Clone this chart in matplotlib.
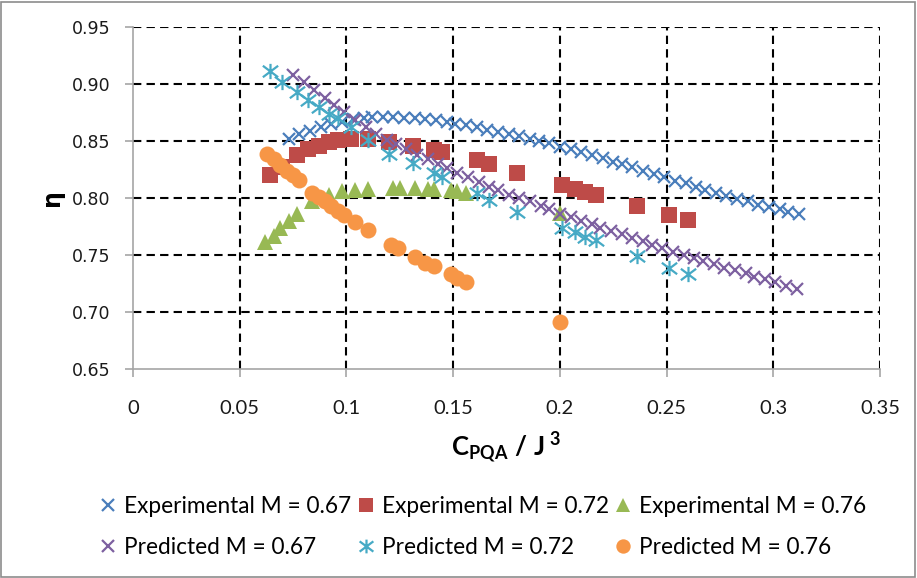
import matplotlib
matplotlib.use("Agg")
import matplotlib.pyplot as plt
from matplotlib.path import Path
from matplotlib.patches import Rectangle
from matplotlib.ticker import FuncFormatter

# Experimental, M = 0.67
exp67_x = [0.073, 0.078, 0.083, 0.088, 0.093, 0.098, 0.103, 0.108, 0.112, 0.117,
           0.122, 0.127, 0.132, 0.137, 0.142, 0.147, 0.151, 0.156, 0.161, 0.166,
           0.171, 0.176, 0.181, 0.186, 0.190, 0.195, 0.200, 0.205, 0.210, 0.215,
           0.220, 0.225, 0.229, 0.234, 0.239, 0.244, 0.249, 0.254, 0.259, 0.264,
           0.268, 0.273, 0.278, 0.283, 0.288, 0.293, 0.298, 0.303, 0.307, 0.312]
exp67_y = [0.852, 0.856, 0.859, 0.862, 0.865, 0.867, 0.869, 0.870, 0.871, 0.871,
           0.871, 0.870, 0.870, 0.869, 0.868, 0.867, 0.865, 0.864, 0.862, 0.860,
           0.858, 0.856, 0.854, 0.852, 0.850, 0.848, 0.845, 0.843, 0.840, 0.838,
           0.835, 0.832, 0.830, 0.827, 0.824, 0.821, 0.818, 0.815, 0.813, 0.810,
           0.807, 0.804, 0.802, 0.799, 0.797, 0.794, 0.792, 0.790, 0.788, 0.786]

# Experimental and predicted, M = 0.72 (same operating points)
m72_x = [0.064, 0.070, 0.077, 0.082, 0.087, 0.092, 0.096, 0.102, 0.110, 0.120,
         0.131, 0.141, 0.145, 0.161, 0.167, 0.180, 0.201, 0.207, 0.212, 0.217,
         0.236, 0.251, 0.260]
exp72_y = [0.820, 0.827, 0.838, 0.843, 0.846, 0.849, 0.851, 0.852, 0.852, 0.849,
           0.846, 0.842, 0.840, 0.833, 0.830, 0.822, 0.811, 0.808, 0.805, 0.803,
           0.793, 0.785, 0.781]
pred72_y = [0.911, 0.902, 0.893, 0.886, 0.880, 0.874, 0.870, 0.862, 0.851, 0.839,
            0.831, 0.822, 0.818, 0.804, 0.798, 0.788, 0.774, 0.770, 0.766, 0.763,
            0.749, 0.739, 0.733]

# Experimental, M = 0.76
exp76_x = [0.062, 0.066, 0.069, 0.073, 0.077, 0.084, 0.092, 0.098, 0.104, 0.110,
           0.122, 0.125, 0.132, 0.138, 0.141, 0.149, 0.152, 0.156, 0.200]
exp76_y = [0.761, 0.767, 0.774, 0.780, 0.786, 0.797, 0.803, 0.806, 0.807, 0.808,
           0.809, 0.809, 0.809, 0.808, 0.808, 0.807, 0.806, 0.804, 0.787]

# Predicted, M = 0.67
pred67_x = [0.075, 0.080, 0.085, 0.090, 0.094, 0.099, 0.104, 0.109, 0.114, 0.119,
            0.123, 0.128, 0.133, 0.138, 0.143, 0.147, 0.152, 0.157, 0.162, 0.167,
            0.171, 0.176, 0.181, 0.186, 0.191, 0.195, 0.200, 0.205, 0.210, 0.215,
            0.219, 0.224, 0.229, 0.234, 0.239, 0.243, 0.248, 0.253, 0.258, 0.263,
            0.267, 0.272, 0.277, 0.282, 0.287, 0.291, 0.296, 0.301, 0.306, 0.311]
pred67_y = [0.908, 0.902, 0.895, 0.888, 0.882, 0.875, 0.868, 0.862, 0.856, 0.851,
            0.847, 0.843, 0.838, 0.834, 0.830, 0.826, 0.822, 0.818, 0.814, 0.810,
            0.807, 0.803, 0.800, 0.797, 0.793, 0.790, 0.786, 0.783, 0.780, 0.777,
            0.774, 0.771, 0.768, 0.765, 0.762, 0.759, 0.756, 0.753, 0.750, 0.747,
            0.745, 0.742, 0.739, 0.737, 0.734, 0.731, 0.729, 0.726, 0.723, 0.720]

# Predicted, M = 0.76
pred76_x = [0.063, 0.066, 0.069, 0.072, 0.075, 0.078, 0.084, 0.087, 0.090, 0.093,
            0.096, 0.099, 0.104, 0.110, 0.121, 0.124, 0.132, 0.137, 0.141, 0.149,
            0.152, 0.156, 0.200]
pred76_y = [0.839, 0.834, 0.829, 0.824, 0.820, 0.816, 0.804, 0.801, 0.797, 0.793,
            0.789, 0.785, 0.779, 0.772, 0.759, 0.756, 0.748, 0.743, 0.740, 0.733,
            0.730, 0.726, 0.691]

x_ticks = [0, 0.05, 0.1, 0.15, 0.2, 0.25, 0.3, 0.35]
y_ticks = [0.65, 0.70, 0.75, 0.80, 0.85, 0.90, 0.95]

plt.rcParams["mathtext.fontset"] = "custom"
plt.rcParams["mathtext.rm"] = "Lato:bold"
plt.rcParams["mathtext.bf"] = "Lato:bold"
plt.rcParams["mathtext.it"] = "Lato:bold"

W, H = 917, 578
fig = plt.figure(figsize=(W / 100, H / 100), dpi=100)
ax = fig.add_axes([133 / W, 1 - 369 / H, (880 - 133) / W, (369 - 27) / H])

# Excel-style star: an X crossed by a vertical stroke
star = Path([(-1, -0.75), (1, 0.75), (-1, 0.75), (1, -0.75), (0, -1), (0, 1)],
            [Path.MOVETO, Path.LINETO, Path.MOVETO, Path.LINETO, Path.MOVETO, Path.LINETO])

c_blue, c_red, c_green = "#4a7ebb", "#be4b48", "#98b954"
c_purple, c_teal, c_orange = "#7d60a0", "#46aac5", "#f79646"

h1, = ax.plot(exp67_x, exp67_y, ls="none", marker="x", ms=9, mew=1.6, color=c_blue,
              label="Experimental M = 0.67")
h2, = ax.plot(m72_x, exp72_y, ls="none", marker="s", ms=11, mew=0, color=c_red,
              label="Experimental M = 0.72")
h3, = ax.plot(exp76_x, exp76_y, ls="none", marker="^", ms=11, mew=0, color=c_green,
              label="Experimental M = 0.76")
h4, = ax.plot(pred67_x, pred67_y, ls="none", marker="x", ms=9, mew=1.6, color=c_purple,
              label="Predicted M = 0.67")
h5, = ax.plot(m72_x, pred72_y, ls="none", marker=star, ms=11, mew=1.6, color=c_teal,
              label="Predicted M = 0.72")
h6, = ax.plot(pred76_x, pred76_y, ls="none", marker="o", ms=11.5, mew=0, color=c_orange,
              label="Predicted M = 0.76")

ax.set_xlim(0, 0.35)
ax.set_ylim(0.65, 0.95)
ax.set_xticks(x_ticks)
ax.set_yticks(y_ticks)
ax.xaxis.set_major_formatter(FuncFormatter(lambda v, p: f"{v:g}"))
ax.yaxis.set_major_formatter(FuncFormatter(lambda v, p: f"{v:.2f}"))

# dashed major gridlines, skipping the ones that sit on the axis lines
for xv in x_ticks[1:]:
    ax.axvline(xv, color="black", lw=1.5, ls=(0, (4, 2.5)), zorder=0.5)
for yv in y_ticks[1:]:
    ax.axhline(yv, color="black", lw=1.5, ls=(0, (4, 2.5)), zorder=0.5)

for s in ("top", "right"):
    ax.spines[s].set_visible(False)
for s in ("left", "bottom"):
    ax.spines[s].set_color("#a6a6a6")
    ax.spines[s].set_linewidth(1.2)
ax.tick_params(axis="both", direction="out", length=6, width=1.2, color="#a6a6a6")
ax.tick_params(axis="y", labelsize=12.5, pad=10, labelcolor="#1a1a1a")
ax.tick_params(axis="x", labelsize=14.5, pad=16, labelcolor="#1a1a1a")
for lab in ax.get_xticklabels():
    lab.set_fontfamily("Lato")

ax.set_xlabel(r"$\mathrm{C_{PQA}\ /\ J^{\ 3}}$", fontsize=18.5, labelpad=10)
ax.set_ylabel("η", fontsize=17, fontweight="bold", family="DejaVu Sans",
              rotation=90, labelpad=6)

leg = fig.legend(handles=[h1, h4, h2, h5, h3, h6], ncol=3, loc="center",
                 bbox_to_anchor=(0.527, 1 - 527 / H), frameon=False,
                 prop={"family": "Lato", "size": 16.3}, handlelength=0.7,
                 handletextpad=0.35, columnspacing=0.3, labelspacing=0.9,
                 markerscale=0.9)

fig.patches.append(Rectangle((0.001, 0.002), 0.997, 0.995, transform=fig.transFigure,
                             fill=False, edgecolor="#8c8c8c", lw=1.2))

fig.savefig("out.png", dpi=100)
